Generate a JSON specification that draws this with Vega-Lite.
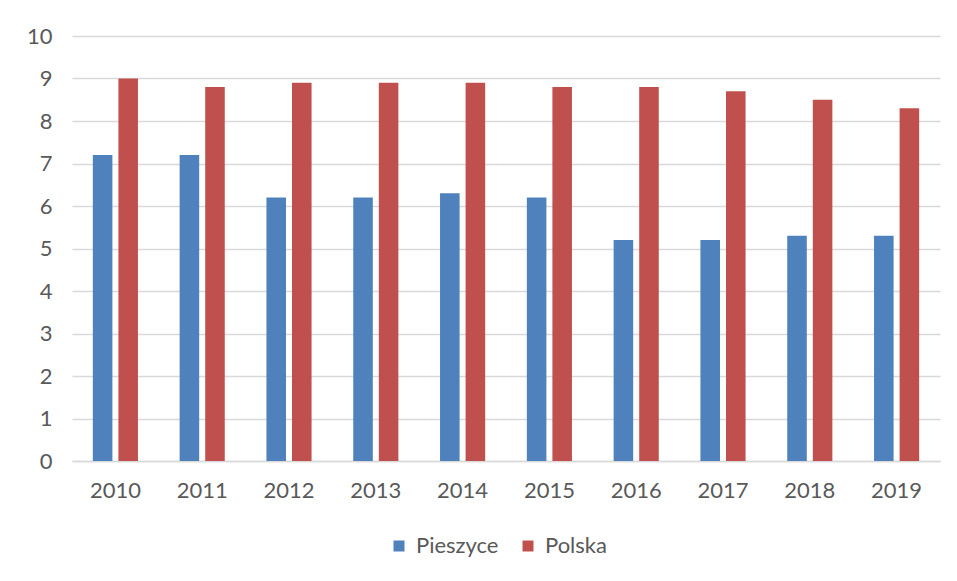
{
  "$schema": "https://vega.github.io/schema/vega-lite/v6.json",
  "width": 868,
  "height": 425,
  "autosize": {"type": "none"},
  "padding": {"left": 72, "top": 36, "right": 17, "bottom": 120},
  "background": "white",
  "config": {
    "font": "Lato",
    "view": {"stroke": null},
    "axis": {"labelFont": "Lato", "labelColor": "#595959", "labelFontSize": 22, "gridColor": "#d9d9d9", "gridWidth": 1.5, "domainColor": "#d9d9d9", "domainWidth": 1.5},
    "legend": {"labelFont": "Lato", "labelColor": "#595959", "labelFontSize": 22}
  },
  "data": {
    "values": [
      {"year": "2010", "series": "Pieszyce", "value": 7.2},
      {"year": "2010", "series": "Polska", "value": 9.0},
      {"year": "2011", "series": "Pieszyce", "value": 7.2},
      {"year": "2011", "series": "Polska", "value": 8.8},
      {"year": "2012", "series": "Pieszyce", "value": 6.2},
      {"year": "2012", "series": "Polska", "value": 8.9},
      {"year": "2013", "series": "Pieszyce", "value": 6.2},
      {"year": "2013", "series": "Polska", "value": 8.9},
      {"year": "2014", "series": "Pieszyce", "value": 6.3},
      {"year": "2014", "series": "Polska", "value": 8.9},
      {"year": "2015", "series": "Pieszyce", "value": 6.2},
      {"year": "2015", "series": "Polska", "value": 8.8},
      {"year": "2016", "series": "Pieszyce", "value": 5.2},
      {"year": "2016", "series": "Polska", "value": 8.8},
      {"year": "2017", "series": "Pieszyce", "value": 5.2},
      {"year": "2017", "series": "Polska", "value": 8.7},
      {"year": "2018", "series": "Pieszyce", "value": 5.3},
      {"year": "2018", "series": "Polska", "value": 8.5},
      {"year": "2019", "series": "Pieszyce", "value": 5.3},
      {"year": "2019", "series": "Polska", "value": 8.3}
    ]
  },
  "mark": {"type": "bar"},
  "encoding": {
    "x": {
      "field": "year", "type": "nominal", "title": null,
      "scale": {"paddingInner": 0.48, "paddingOuter": 0.24},
      "axis": {"labelAngle": 0, "ticks": false, "labelPadding": 19, "grid": false}
    },
    "xOffset": {
      "field": "series", "type": "nominal",
      "scale": {"paddingInner": 0.235, "paddingOuter": 0}
    },
    "y": {
      "field": "value", "type": "quantitative", "title": null,
      "scale": {"domain": [0, 10], "nice": false},
      "axis": {"values": [0,1,2,3,4,5,6,7,8,9,10], "labelOverlap": false, "domain": false, "ticks": false, "labelPadding": 20}
    },
    "color": {
      "field": "series", "type": "nominal",
      "scale": {"domain": ["Pieszyce", "Polska"], "range": ["#4F81BD", "#C0504D"]},
      "legend": {"title": null, "orient": "none", "legendX": 316, "legendY": 499, "direction": "horizontal", "symbolType": "square", "symbolSize": 121, "symbolStrokeWidth": 0, "columnPadding": 18, "labelOffset": 6}
    }
  }
}
